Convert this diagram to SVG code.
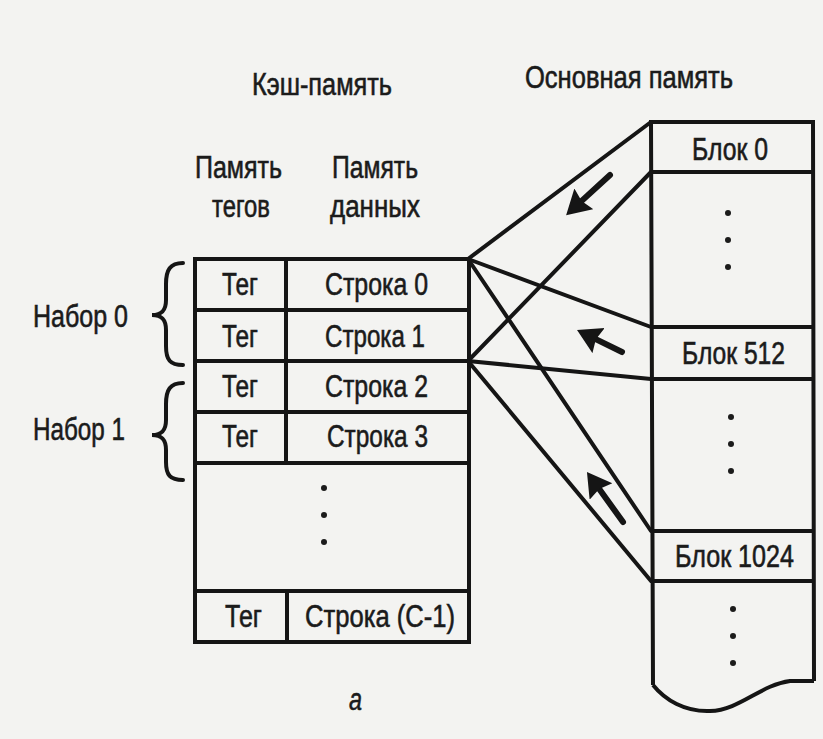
<svg xmlns="http://www.w3.org/2000/svg" width="823" height="739" viewBox="0 0 823 739">
  <defs>
    <style>
      .t { font-family: "Liberation Sans", Arial, sans-serif; font-size: 31px; fill: #1b1b1b; stroke: #1b1b1b; stroke-width: 0.6px; }
      .box { fill: none; stroke: #151515; stroke-width: 4; stroke-linejoin: miter; }
      .ln { fill: none; stroke: #151515; stroke-width: 4; stroke-linecap: round; }
      .conn { fill: none; stroke: #151515; stroke-width: 4; stroke-linecap: round; }
      .arr { fill: none; stroke: #151515; stroke-width: 6; stroke-linecap: round; marker-end: url(#head); }
      .dot { fill: #1b1b1b; }
    </style>
    <marker id="head" markerUnits="userSpaceOnUse" markerWidth="26" markerHeight="30" refX="14" refY="14" orient="auto" viewBox="0 0 26 30">
      <path d="M0,0 L24,14 L0,28 L3,14 Z" fill="#151515"/>
    </marker>
  </defs>

  <rect x="0" y="0" width="823" height="739" fill="#f3f3f1"/>

  <!-- Titles -->
  <g id="title-cache">
    <text class="t" x="252" y="95" textLength="140" lengthAdjust="spacingAndGlyphs">Кэш-память</text>
  </g>
  <g id="title-main">
    <text class="t" x="525" y="88" textLength="208" lengthAdjust="spacingAndGlyphs">Основная память</text>
  </g>
  <g id="title-tags">
    <text class="t" x="195" y="178" textLength="87" lengthAdjust="spacingAndGlyphs">Память</text>
    <text class="t" x="212" y="217" textLength="58" lengthAdjust="spacingAndGlyphs">тегов</text>
  </g>
  <g id="title-data">
    <text class="t" x="332" y="178" textLength="86" lengthAdjust="spacingAndGlyphs">Память</text>
    <text class="t" x="330" y="217" textLength="90" lengthAdjust="spacingAndGlyphs">данных</text>
  </g>

  <!-- Set labels with braces -->
  <g id="set0">
    <text class="t" x="33" y="327" textLength="95" lengthAdjust="spacingAndGlyphs">Набор 0</text>
    <path class="ln" d="M183,263 C170,263 166,270 166,284 L166,300 C166,310 162,315 152,315 C162,315 166,320 166,330 L166,346 C166,360 170,365 183,365"/>
  </g>
  <g id="set1">
    <text class="t" x="33" y="440" textLength="92" lengthAdjust="spacingAndGlyphs">Набор 1</text>
    <path class="ln" d="M183,383 C170,383 166,390 166,404 L166,420 C166,430 162,435 152,435 C162,435 166,440 166,450 L166,462 C166,475 170,480 183,480"/>
  </g>

  <!-- Cache table -->
  <g id="cache">
    <rect class="box" x="195" y="259" width="274" height="383"/>
    <line class="box" x1="195" y1="310" x2="469" y2="310"/>
    <line class="box" x1="195" y1="361" x2="469" y2="361"/>
    <line class="box" x1="195" y1="412" x2="469" y2="412"/>
    <line class="box" x1="195" y1="463" x2="469" y2="463"/>
    <line class="box" x1="195" y1="591" x2="469" y2="591"/>
    <line class="box" x1="286" y1="259" x2="286" y2="463"/>
    <line class="box" x1="287" y1="591" x2="287" y2="642"/>

    <text class="t" x="222" y="295" textLength="36" lengthAdjust="spacingAndGlyphs">Тег</text>
    <text class="t" x="325" y="295" textLength="103" lengthAdjust="spacingAndGlyphs">Строка 0</text>
    <text class="t" x="222" y="347" textLength="36" lengthAdjust="spacingAndGlyphs">Тег</text>
    <text class="t" x="325" y="347" textLength="100" lengthAdjust="spacingAndGlyphs">Строка 1</text>
    <text class="t" x="222" y="397" textLength="36" lengthAdjust="spacingAndGlyphs">Тег</text>
    <text class="t" x="325" y="397" textLength="103" lengthAdjust="spacingAndGlyphs">Строка 2</text>
    <text class="t" x="222" y="447" textLength="36" lengthAdjust="spacingAndGlyphs">Тег</text>
    <text class="t" x="327" y="447" textLength="101" lengthAdjust="spacingAndGlyphs">Строка 3</text>

    <circle class="dot" cx="324" cy="488" r="3"/>
    <circle class="dot" cx="324" cy="515" r="3"/>
    <circle class="dot" cx="324" cy="542" r="3"/>

    <text class="t" x="225" y="627" textLength="37" lengthAdjust="spacingAndGlyphs">Тег</text>
    <text class="t" x="305" y="627" textLength="150" lengthAdjust="spacingAndGlyphs">Строка (С-1)</text>
  </g>

  <!-- Main memory column -->
  <g id="main-memory">
    <path class="box" d="M653,685 L651,122 L813,122 L814,681"/>
    <path class="box" d="M653,685 C665,700 685,712 710,711 C740,710 760,685 790,681 L814,681"/>
    <line class="box" x1="651" y1="172" x2="813" y2="172"/>
    <line class="box" x1="651" y1="327" x2="813" y2="327"/>
    <line class="box" x1="651" y1="379" x2="813" y2="379"/>
    <line class="box" x1="651" y1="531" x2="813" y2="531"/>
    <line class="box" x1="651" y1="581" x2="813" y2="581"/>
  </g>
  <g id="block0">
    <text class="t" x="692" y="160" textLength="76" lengthAdjust="spacingAndGlyphs">Блок 0</text>
  </g>
  <g id="block512">
    <text class="t" x="682" y="364" textLength="103" lengthAdjust="spacingAndGlyphs">Блок 512</text>
  </g>
  <g id="block1024">
    <text class="t" x="675" y="567" textLength="119" lengthAdjust="spacingAndGlyphs">Блок 1024</text>
  </g>
  <g id="memory-dots">
    <circle class="dot" cx="728" cy="213" r="3"/>
    <circle class="dot" cx="728" cy="240" r="3"/>
    <circle class="dot" cx="728" cy="267" r="3"/>
    <circle class="dot" cx="731" cy="417" r="3"/>
    <circle class="dot" cx="731" cy="444" r="3"/>
    <circle class="dot" cx="731" cy="471" r="3"/>
    <circle class="dot" cx="733" cy="609" r="3"/>
    <circle class="dot" cx="733" cy="636" r="3"/>
    <circle class="dot" cx="733" cy="663" r="3"/>
  </g>

  <!-- Connectors -->
  <g id="connectors">
    <line class="conn" x1="468" y1="259" x2="651" y2="122"/>
    <line class="conn" x1="468" y1="259" x2="651" y2="327"/>
    <line class="conn" x1="468" y1="259" x2="651" y2="531"/>
    <line class="conn" x1="468" y1="361" x2="651" y2="172"/>
    <line class="conn" x1="468" y1="361" x2="651" y2="379"/>
    <line class="conn" x1="468" y1="361" x2="651" y2="581"/>
    <line class="arr" x1="610" y1="175" x2="573.5" y2="208.4"/>
    <line class="arr" x1="622" y1="352" x2="586" y2="334.4"/>
    <line class="arr" x1="623" y1="522" x2="592.8" y2="480.1"/>
  </g>

  <g id="caption">
    <text class="t" x="349" y="710" textLength="13" lengthAdjust="spacingAndGlyphs" font-style="italic">а</text>
  </g>
</svg>
